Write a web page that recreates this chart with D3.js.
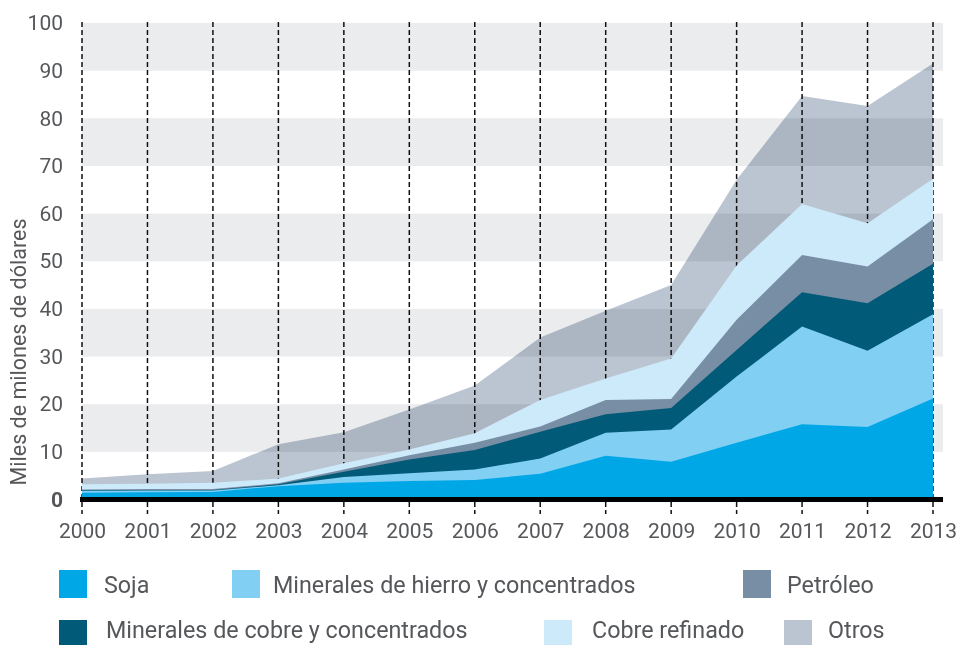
<!DOCTYPE html>
<html>
<head>
<meta charset="utf-8">
<script src="https://cdn.jsdelivr.net/npm/d3@7"></script>
<style>
  body { margin: 0; background: #fff; }
  text { font-family: Roboto, "Noto Sans", sans-serif; fill: #55575a; }
</style>
</head>
<body>
<div id="chart"></div>
<script>
// Data (miles de millones de dólares)
var years = [2000, 2001, 2002, 2003, 2004, 2005, 2006, 2007, 2008, 2009, 2010, 2011, 2012, 2013];
var soja    = [1.4, 1.5, 1.6, 2.8, 3.5, 3.9, 4.1, 5.4, 9.2, 7.9, 11.9, 15.8, 15.2, 21.2];
var hierro  = [0.45, 0.4, 0.3, 0.2, 1.2, 1.6, 2.2, 3.2, 4.8, 6.8, 13.9, 20.5, 16.0, 17.7];
var cobreMin = [0.15, 0.1, 0.1, 0.2, 1.1, 2.9, 4.1, 5.6, 3.9, 4.5, 5.6, 7.2, 10.0, 10.6];
var petroleo = [0.1, 0.2, 0.2, 0.2, 0.5, 0.9, 1.5, 1.1, 3.0, 1.9, 6.3, 7.8, 7.7, 9.3];
var cobreRef = [1.1, 1.1, 1.3, 1.0, 1.3, 1.2, 2.0, 5.6, 4.5, 8.5, 11.4, 10.7, 9.1, 8.5];
var otros    = [1.2, 2.0, 2.5, 7.2, 6.5, 8.4, 10.0, 13.1, 14.2, 15.4, 18.0, 22.7, 24.6, 24.2];

var keys = ["soja", "hierro", "cobreMin", "petroleo", "cobreRef", "otros"];
var labels = ["Soja", "Minerales de hierro y concentrados", "Minerales de cobre y concentrados",
              "Petróleo", "Cobre refinado", "Otros"];
var yTicks = [0, 10, 20, 30, 40, 50, 60, 70, 80, 90, 100];

var colors = {
  soja: "#00a7e7", hierro: "#82cff4", cobreMin: "#005a78",
  petroleo: "#788ea5", cobreRef: "#cdeafb", otros: "#bbc5d1"
};

var width = 957, height = 645;

var svg = d3.select("#chart").append("svg")
    .attr("width", width)
    .attr("height", height);

var x = d3.scaleLinear().domain([2000, 2013]).range([82, 933]);
var y = d3.scaleLinear().domain([0, 100]).range([499.5, 23]);

// build rows for the stack
var rows = years.map(function(yr, i) {
  return { year: yr, soja: soja[i], hierro: hierro[i], cobreMin: cobreMin[i],
           petroleo: petroleo[i], cobreRef: cobreRef[i], otros: otros[i] };
});
var series = d3.stack().keys(keys)(rows);

// alternating grey bands
var bands = [[90, 100], [70, 80], [50, 60], [30, 40], [10, 20]];
svg.append("g").selectAll("rect")
    .data(bands)
  .enter().append("rect")
    .attr("x", x(2000))
    .attr("width", 943 - x(2000))
    .attr("y", function(d) { return y(d[1]); })
    .attr("height", function(d) { return y(d[0]) - y(d[1]); })
    .attr("fill", "#ebecee");

var area = d3.area()
    .x(function(d) { return x(d.data.year); })
    .y0(function(d) { return y(d[0]); })
    .y1(function(d) { return y(d[1]); });

// "Otros" sits behind the dashed lines and multiplies with the bands
var otrosSeries = series[5];
svg.append("path")
    .datum(otrosSeries.map(function(d) { var p = [0, d[1]]; p.data = d.data; return p; }))
    .attr("d", area)
    .attr("fill", colors.otros)
    .style("mix-blend-mode", "multiply");

// dashed year lines
svg.append("g").selectAll("line")
    .data(years)
  .enter().append("line")
    .attr("x1", function(d) { return x(d); })
    .attr("x2", function(d) { return x(d); })
    .attr("y1", 22)
    .attr("y2", 514)
    .attr("stroke", "#111")
    .attr("stroke-width", 1.5)
    .attr("stroke-dasharray", "5,3");

// remaining layers, top-most first so lower ones cover them
svg.append("g").selectAll("path")
    .data(series.slice(0, 5).map(function(s) {
      var pts = s.map(function(d) { var p = [0, d[1]]; p.data = d.data; return p; });
      pts.key = s.key; pts.index = s.index;
      return pts;
    }).reverse())
  .enter().append("path")
    .attr("d", area)
    .attr("fill", function(d) { return colors[d.key]; });

// black baseline
svg.append("rect")
    .attr("x", 80)
    .attr("y", y(0) - 2.5)
    .attr("width", 943 - 80)
    .attr("height", 5)
    .attr("fill", "#000");

// y axis
var yAxis = svg.append("g")
    .attr("transform", "translate(" + x(2000) + ",0)")
    .call(d3.axisLeft(y).tickValues(yTicks).tickSize(0).tickPadding(19));
yAxis.select(".domain").remove();
yAxis.selectAll("text")
    .style("font-family", "Roboto, sans-serif")
    .style("font-size", "21px")
    .attr("fill", "#55575a")
    .style("font-weight", function(d) { return d === 0 ? "bold" : "normal"; });

// x axis
var xAxis = svg.append("g")
    .attr("transform", "translate(0," + y(0) + ")")
    .call(d3.axisBottom(x).tickValues(years).tickFormat(d3.format("d")).tickSize(0).tickPadding(24));
xAxis.select(".domain").remove();
xAxis.selectAll("text")
    .style("font-family", "Roboto, sans-serif")
    .style("font-size", "21px")
    .attr("fill", "#55575a");

// y axis title
svg.append("text")
    .attr("transform", "translate(26,352) rotate(-90)")
    .attr("text-anchor", "middle")
    .style("font-size", "21.5px")
    .text("Miles de milones de dólares");

// legend
var legendPos = [
  { key: "soja",     sx: 59,  tx: 104, row: 0 },
  { key: "hierro",   sx: 232, tx: 273, row: 0 },
  { key: "cobreMin", sx: 59,  tx: 106, row: 1 },
  { key: "petroleo", sx: 743, tx: 787, row: 0 },
  { key: "cobreRef", sx: 544, tx: 592, row: 1 },
  { key: "otros",    sx: 784, tx: 828, row: 1 }
];
var legend = svg.append("g").selectAll("g")
    .data(legendPos)
  .enter().append("g");
legend.append("rect")
    .attr("x", function(d) { return d.sx; })
    .attr("y", function(d) { return 570 + d.row * 50; })
    .attr("width", 28)
    .attr("height", 28)
    .attr("fill", function(d) { return colors[d.key]; });
legend.append("text")
    .attr("x", function(d) { return d.tx; })
    .attr("y", function(d) { return 593 + d.row * 45; })
    .style("font-size", "23.3px")
    .text(function(d) { return labels[keys.indexOf(d.key)]; });
</script>
</body>
</html>
